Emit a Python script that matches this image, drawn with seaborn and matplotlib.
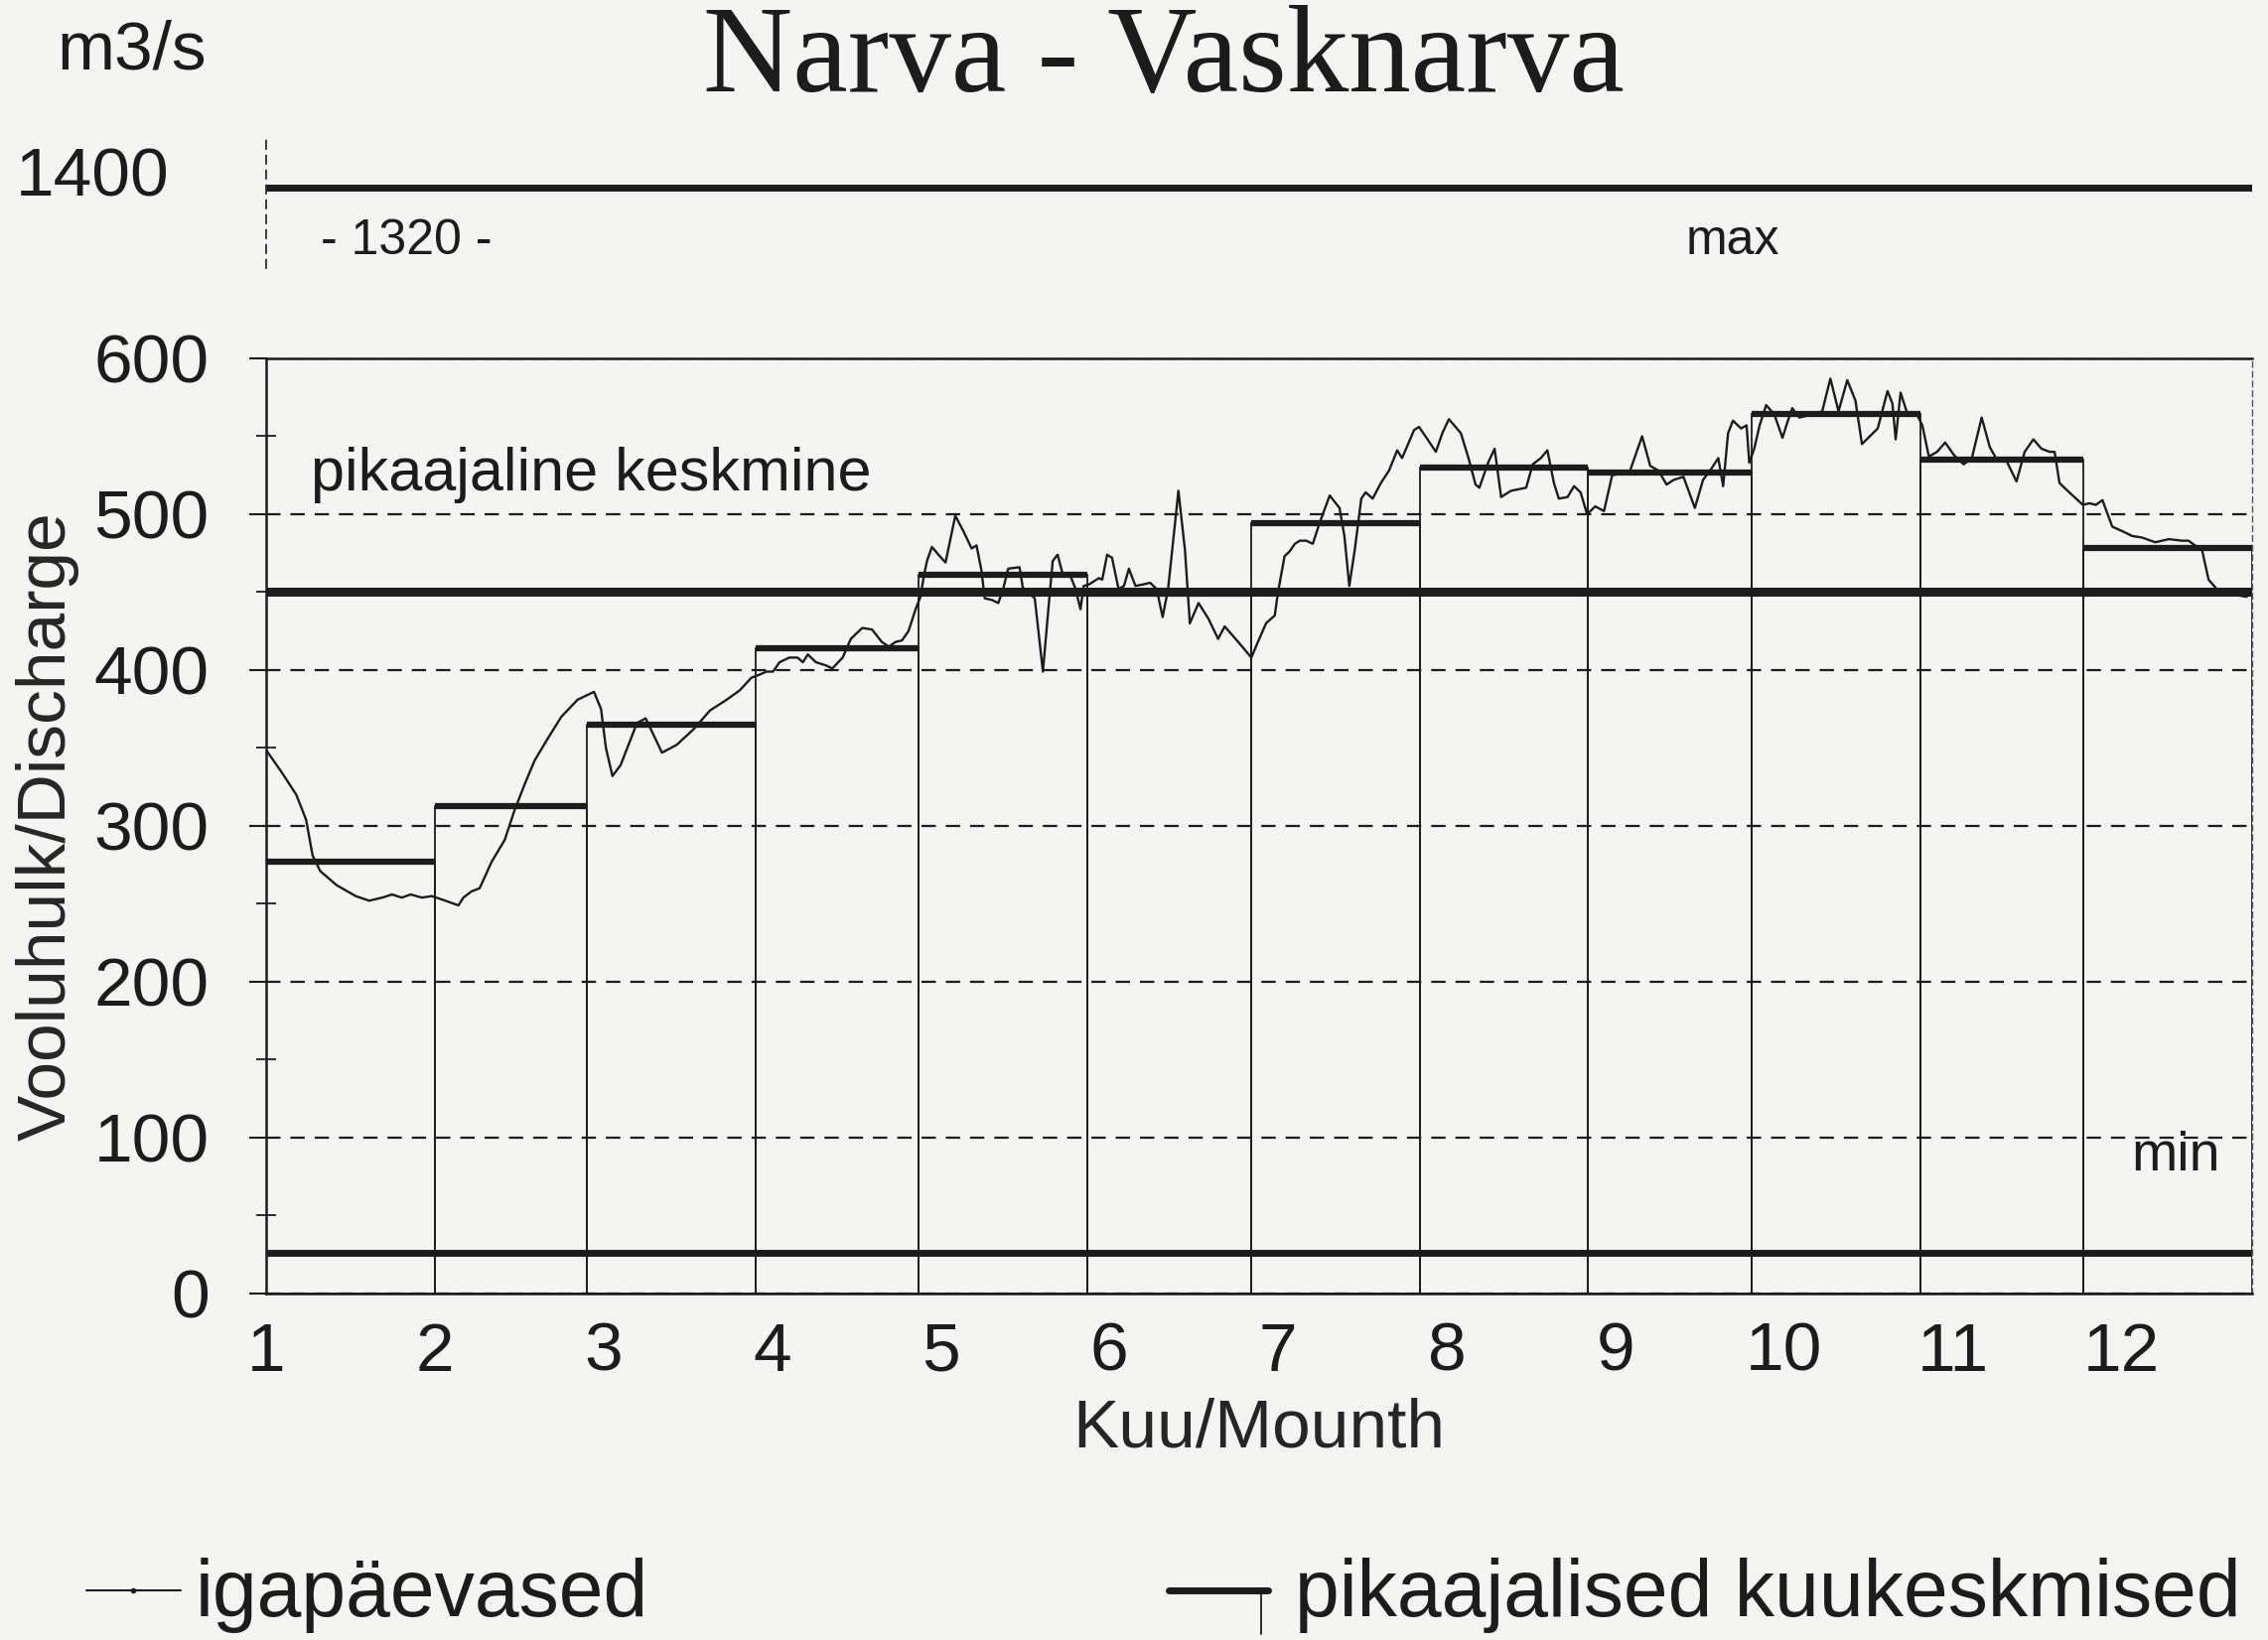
import numpy as np
import matplotlib
matplotlib.use("Agg")
import matplotlib.pyplot as plt
import seaborn as sns
from matplotlib.lines import Line2D

## Daily discharge (day of year, m3/s)
day = [0, 3, 5.6, 7.4, 8.6, 10, 13, 16.5, 19, 21.4, 23.2, 25, 26.6, 28.7, 30.5, 33, 35.4, 36.3, 37.8, 39.3,
       41.5, 43.9, 45.7, 47.6, 49.4, 51.8, 54.3, 57.3, 60.3, 61.6, 62.5, 63.7, 65.2, 68.2, 69.8, 71.3, 72.8,
       75.5, 78.6, 81.6, 84.7, 87.1, 89.2, 90.7, 92, 93.2, 94.4, 96.2, 97.7, 98.7, 99.6, 101.1, 102.9, 104.1,
       106, 107.5, 109.6, 111.4, 113.2, 114.5, 115.7, 116.9, 118.1, 119.4, 120.3, 120.9, 121.5, 122.4, 123.6,
       124.9, 126.7, 128.2, 129.7, 130.6, 131.5, 132.1, 133.4, 134.6, 135.5, 136.4, 138.5, 139.1, 141.3, 142.8,
       144, 144.6, 145.5, 146.4, 147.9, 148.8, 149.7, 150.3, 151.3, 153.1, 153.7, 154.6, 155.5, 156.7, 157.7,
       158.6, 159.8, 161.3, 162.5, 163.7, 164.8, 165.8, 167.7, 168.9, 169.8, 171.4, 173.2, 175, 176.2, 178.7,
       181.1, 182.3, 183.8, 185.4, 186, 187.2, 188.1, 189.1, 190, 191.2, 192.4, 193.6, 195.5, 197.3, 198.2,
       199.1, 200.1, 201.3, 202.1, 203.4, 204.9, 206.4, 207.9, 208.8, 211, 211.9, 213.1, 215, 216.2, 217.4,
       219.6, 221, 222.3, 223, 224.6, 225.8, 227, 228.8, 231.6, 232.8, 234.3, 235.5, 236.7, 237.6, 239.2,
       240.4, 241.6, 242.8, 244.3, 245.9, 247.4, 248.9, 250.7, 252.9, 254.4, 255.9, 257.4, 258.7, 260.5,
       262.6, 264.1, 265.6, 266.9, 267.8, 268.7, 269.6, 271.1, 272.1, 272.6, 273.5, 274.5, 275.7, 277.2,
       278.7, 279.6, 280.5, 281.8, 284.2, 286, 287.5, 289, 290.6, 292.1, 293.3, 296.2, 298, 298.9, 299.5,
       300.4, 301.6, 303.4, 304.4, 305.6, 307.1, 308.6, 310.2, 312, 313.5, 315.3, 316.8, 318.1, 319.9, 321.7,
       323.2, 324.8, 326.3, 327.8, 328.7, 329.6, 331.4, 333.9, 335.1, 336.3, 337.5, 339.3, 341.2, 343, 344.8,
       347.2, 349.7, 352.1, 353.3, 354.5, 355.8, 357, 359, 364]
q = [349, 334, 320, 304, 281, 271, 262, 255, 252, 254, 256, 254, 256, 254, 255, 252, 249, 254, 258, 260,
     277, 291, 310, 327, 342, 356, 370, 381, 386, 375, 350, 332, 339, 366, 369, 358, 347,
     352, 362, 374, 381, 387, 395, 397, 399, 399, 405, 408, 408, 405, 410, 405, 403, 401,
     408, 420, 427, 426, 418, 415, 418, 419, 425, 439, 447, 460, 470, 479, 474,
     469, 499, 489, 478, 480, 464, 446, 445, 443, 452, 465, 466, 453, 446, 399,
     447, 470, 474, 462, 460, 452, 439, 454, 455, 459, 458, 474, 472, 452, 454,
     465, 454, 455, 456, 452, 434, 452, 515, 477, 430, 443, 433, 420, 428, 418,
     408, 418, 430, 435, 450, 473, 476, 481, 483, 483, 481, 494, 512, 504, 486,
     454, 477, 510, 514, 510, 520, 528, 541, 536, 554, 556, 550, 540, 552, 561,
     552, 536, 519, 517, 533, 542, 511, 515, 517, 532, 536, 541, 520, 510, 511,
     518, 514, 500, 505, 502, 525, 526, 528, 550, 531, 528, 519, 522, 524,
     504, 522, 529, 536, 518, 552, 560, 555, 557, 533, 542, 557, 570, 564,
     549, 559, 568, 562, 564, 566, 587, 566, 586, 573, 545, 555, 579, 571, 548,
     578, 565, 564, 557, 537, 540, 546, 538, 532, 536, 562, 543, 535, 534, 521,
     540, 548, 542, 540, 540, 520, 514, 506, 507, 506, 509, 492, 489, 486, 485,
     482, 484, 483, 483, 480, 477, 458, 450, 447]

## Long-term monthly means
month_len = [31, 28, 31, 30, 31, 30, 31, 31, 30, 31, 30, 31]
month_mean = [277, 313, 365, 414, 461, 449, 494, 530, 527, 564, 535, 478]
month_labels = ["1", "2", "3", "4", "5", "6", "7", "8", "9", "10", "11", "12"]

mean_q = 450   # pikaajaline keskmine
min_q = 26
max_q = 1320

ink = "#1c1c1c"
paper = "#f4f4f3"

sns.set_style("ticks")
plt.rcParams["font.family"] = ["Liberation Sans", "DejaVu Sans"]
plt.rcParams["text.color"] = ink

fig = plt.figure(figsize=(22.84, 16.52), dpi=100, facecolor=paper)
ax = fig.add_axes([0.1172, 0.2113, 0.8758, 0.5702])
ax_top = fig.add_axes([0.1172, 0.8366, 0.8758, 0.0787])
for a in (ax, ax_top):
    a.set_facecolor("none")

month_start = np.concatenate([[0], np.cumsum(month_len)[:-1]])
month_end = np.cumsum(month_len)

## grid first so it sits under the data
ax.set_yticks(range(0, 601, 100))
ax.set_yticks(range(50, 600, 100), minor=True)
ax.yaxis.grid(True, linestyle=(0, (6.5, 4.5)), color=ink, lw=1.6)
ax.xaxis.grid(False)
ax.set_axisbelow(True)

## monthly means as open bars with heavy tops
ax.bar(month_start, month_mean, width=month_len, align="edge", fill=False,
       edgecolor=ink, linewidth=1.3)
ax.hlines(month_mean, month_start, month_end, color=ink, lw=4.5)

ax.axhline(mean_q, color=ink, lw=6.5)
ax.axhline(min_q, color=ink, lw=5)

sns.lineplot(x=day, y=q, ax=ax, color=ink, lw=1.7, estimator=None, sort=False)

ax.set_xlim(0, 365)
ax.set_ylim(0, 600)
ax.set_xticks(np.linspace(0, 341, 12))
ax.set_xticklabels(month_labels)
ax.tick_params(axis="x", length=0, pad=20, labelsize=50, colors=ink)
ax.tick_params(axis="y", which="major", direction="out", length=12, width=1.5,
               pad=29, labelsize=50, colors=ink)
ax.tick_params(axis="y", which="minor", direction="inout", length=14, width=1.3, color=ink)

for s in ("top", "left", "bottom"):
    ax.spines[s].set_color(ink)
    ax.spines[s].set_linewidth(1.8)
ax.spines["right"].set_color("#555555")
ax.spines["right"].set_linewidth(1.0)
ax.spines["right"].set_linestyle((0, (4, 3)))

ax.set_xlabel("Kuu/Mounth", fontsize=50)
ax.xaxis.set_label_coords(0.5, -0.111)
ax.set_ylabel("Vooluhulk/Discharge", fontsize=50)
ax.yaxis.set_label_coords(-0.094, 0.5)

ax.text(8.3, 525, "pikaajaline keskmine", fontsize=44, ha="left", va="center")
ax.text(351, 88, "min", fontsize=40, ha="center", va="center")

## broken upper part for the maximum
ax_top.set_xlim(0, 365)
ax_top.set_ylim(939, 1551)
ax_top.hlines(max_q, 0, 365, color=ink, lw=5)
ax_top.set_xticks([])
ax_top.set_yticks([1400])
ax_top.set_yticklabels(["1400"])
ax_top.tick_params(axis="y", length=0, pad=70, labelsize=50, colors=ink)
for s in ("top", "right", "bottom"):
    ax_top.spines[s].set_visible(False)
ax_top.spines["left"].set_linestyle((0, (5, 4)))
ax_top.spines["left"].set_linewidth(1.2)
ax_top.spines["left"].set_color(ink)
ax_top.text(10.1, 1066, "- 1320 -", fontsize=36, ha="left", va="center")
ax_top.text(269.6, 1066, "max", fontsize=36, ha="center", va="center")

fig.text(1172 / 2284, 1 - 62 / 1652, "Narva - Vasknarva", fontsize=90,
         family="Liberation Serif", ha="center", va="center")
fig.text(133 / 2284, 1 - 51 / 1652, "m3/s", fontsize=50, ha="center", va="center")

## legend row at the bottom
ly = 1 - 1602 / 1652
fig.add_artist(Line2D([87 / 2284, 182 / 2284], [ly, ly], color=ink, lw=1.5))
fig.add_artist(Line2D([134 / 2284], [ly], color=ink, marker="o", markersize=3))
fig.text(197 / 2284, 1 - 1607 / 1652, "igapäevased", fontsize=58, ha="left", va="center")
fig.add_artist(Line2D([1177 / 2284, 1277 / 2284], [ly, ly], color=ink, lw=5))
fig.add_artist(Line2D([1270 / 2284, 1270 / 2284], [ly, 1 - 1646 / 1652], color=ink, lw=1.3))
fig.text(1304 / 2284, 1 - 1607 / 1652, "pikaajalised kuukeskmised", fontsize=58,
         ha="left", va="center")

fig.savefig("out.png", dpi=100, facecolor=paper)
